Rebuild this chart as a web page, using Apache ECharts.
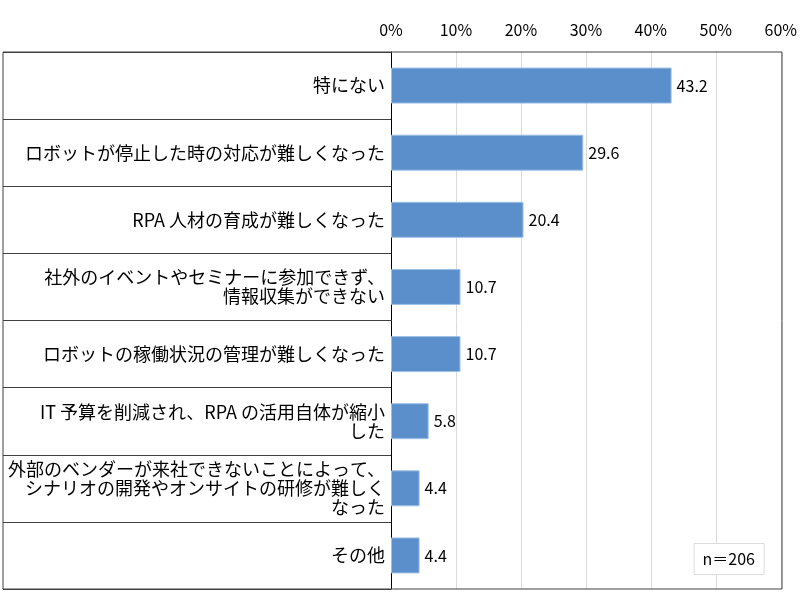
<!DOCTYPE html>
<html>
<head>
<meta charset="utf-8">
<script src="https://cdn.jsdelivr.net/npm/echarts@6/dist/echarts.min.js"></script>
<style>
  html, body { margin: 0; padding: 0; background: #fff; }
  #main { width: 800px; height: 606px; }
</style>
</head>
<body>
<div id="main"></div>
<script>
// 回答項目と割合(%)
const categories = [
    '特にない',
    'ロボットが停止した時の対応が難しくなった',
    'RPA 人材の育成が難しくなった',
    '社外のイベントやセミナーに参加できず、\n情報収集ができない',
    'ロボットの稼働状況の管理が難しくなった',
    'IT 予算を削減され、RPA の活用自体が縮小\nした',
    '外部のベンダーが来社できないことによって、\nシナリオの開発やオンサイトの研修が難しく\nなった',
    'その他'
]
const values = [43.2, 29.6, 20.4, 10.7, 10.7, 5.8, 4.4, 4.4]
const sampleNote = 'n＝206'

const font = '"Noto Sans CJK JP", "Noto Sans", sans-serif'

let myChart = echarts.init(document.getElementById('main'))
let option = {
    backgroundColor: '#fff',
    animation: false,
    title: {
        text: sampleNote,
        right: 36,
        bottom: 31,
        padding: [8, 9],
        borderColor: '#dcdcdc',
        borderWidth: 1,
        backgroundColor: '#fff',
        textStyle: { fontFamily: font, fontSize: 16, fontWeight: 'normal', color: '#000' }
    },
    grid: { left: 391, right: 18, top: 52, bottom: 17 },
    // 外枠
    graphic: [{
        type: 'rect',
        z: 100,
        silent: true,
        shape: { x: 3, y: 52, width: 779, height: 537 },
        style: { fill: 'none', stroke: '#404040', lineWidth: 1 }
    }],
    xAxis: {
        type: 'value',
        position: 'top',
        min: 0,
        max: 60,
        interval: 10,
        axisLine: { show: false },
        axisTick: { show: false },
        splitLine: { lineStyle: { color: '#d9d9d9' } },
        axisLabel: {
            formatter: '{value}%',
            margin: 14,
            fontFamily: font,
            fontSize: 16,
            color: '#000'
        }
    },
    yAxis: {
        type: 'category',
        inverse: true,
        data: categories,
        axisLine: { lineStyle: { color: '#000', width: 1 } },
        axisTick: {
            show: true,
            interval: 0,
            length: 388,
            lineStyle: { color: '#404040' }
        },
        axisLabel: {
            interval: 0,
            margin: 6,
            align: 'right',
            fontFamily: font,
            fontSize: 18,
            lineHeight: 19,
            color: '#000'
        }
    },
    series: [{
        type: 'bar',
        data: values,
        barWidth: 36,
        itemStyle: { color: '#5b8fcb', borderColor: '#9fc0e6', borderWidth: 1 },
        label: {
            show: true,
            position: 'right',
            distance: 5,
            fontFamily: font,
            fontSize: 16,
            color: '#000',
            formatter: function (p) { return p.value.toFixed(1) }
        }
    }]
}
myChart.setOption(option)
</script>
</body>
</html>
